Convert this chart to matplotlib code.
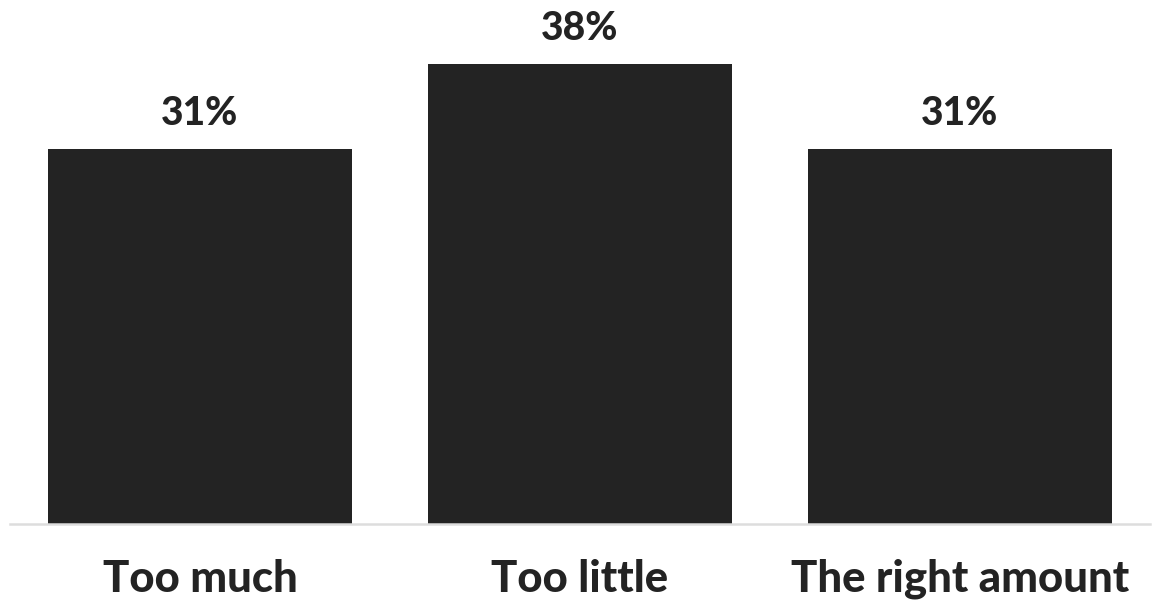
import matplotlib
matplotlib.use("Agg")
import matplotlib.pyplot as plt

categories = ["Too much", "Too little", "The right amount"]
values = [31, 38, 31]
value_labels = ["31%", "38%", "31%"]

BAR = "#232323"
plt.rcParams['font.family'] = ['Lato', 'DejaVu Sans']

fig = plt.figure(figsize=(11.57, 6.05), dpi=100)
ax = fig.add_axes([10/1157, 1 - 524/605, 1140/1157, 524/605])
x = list(range(len(categories)))
ax.bar(x, values, width=0.8, color=BAR, zorder=2)
ax.set_xlim(-0.5, 2.5)
ax.set_ylim(0, 524/12.1)

for xi, v, lab in zip(x, values, value_labels):
    ax.annotate(lab, (xi, v), xytext=(0, 17), textcoords="offset pixels",
                ha="center", va="bottom", fontsize=28, fontweight="black",
                color=BAR)

ax.set_xticks(x)
ax.set_xticklabels(categories, fontsize=31.5, fontweight="black", color=BAR)
ax.tick_params(axis="x", length=0, pad=25)
ax.set_yticks([])
for s in ["top", "left", "right"]:
    ax.spines[s].set_visible(False)
ax.spines["bottom"].set_color("#dddddd")
ax.spines["bottom"].set_linewidth(1.8)

fig.savefig("out.png", dpi=100, facecolor="white")
